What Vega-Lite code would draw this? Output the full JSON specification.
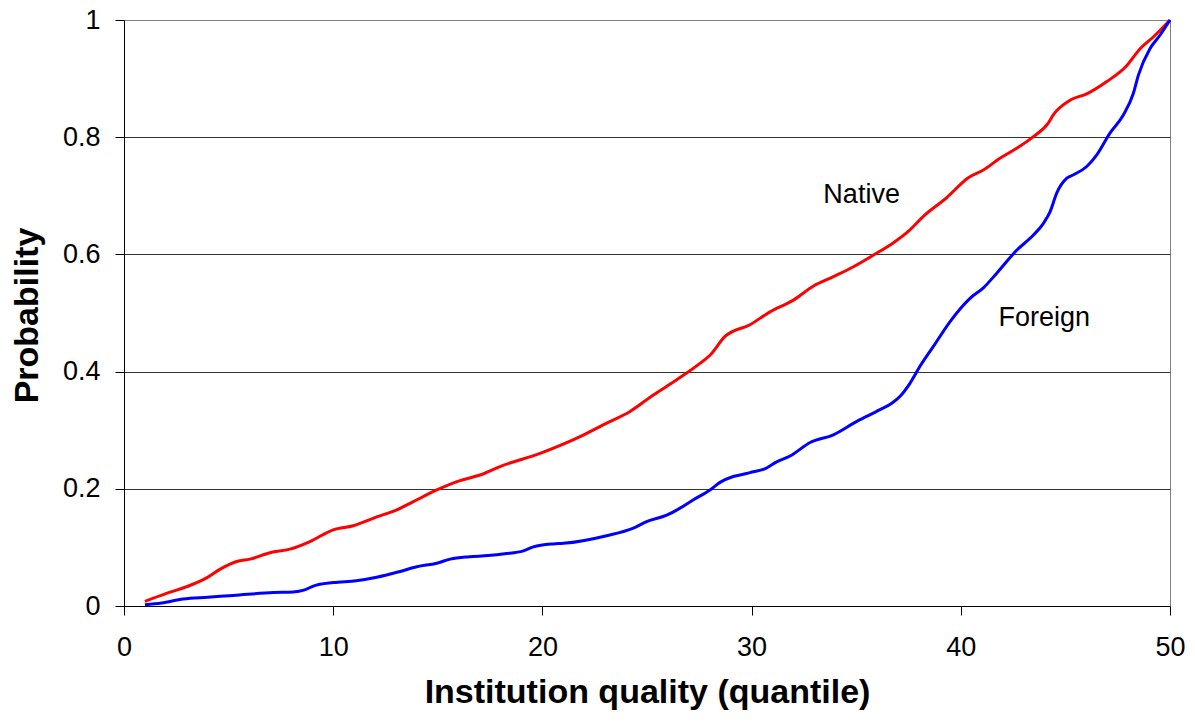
{
  "$schema": "https://vega.github.io/schema/vega-lite/v6.json",
  "width": 1046,
  "height": 586,
  "autosize": {"type": "none"},
  "padding": {"left": 124, "top": 20, "right": 25, "bottom": 118},
  "background": "white",
  "config": {
    "view": {"stroke": "#808080", "strokeWidth": 1},
    "font": "Liberation Sans",
    "axis": {"labelFont": "Liberation Sans", "titleFont": "Liberation Sans", "labelColor": "#000", "titleColor": "#000"}
  },
  "datasets": {
    "curves": [
      {"series": "Native", "x": 1, "y": 0.008},
      {"series": "Native", "x": 2, "y": 0.021},
      {"series": "Native", "x": 3, "y": 0.033},
      {"series": "Native", "x": 3.95, "y": 0.048},
      {"series": "Native", "x": 4.6, "y": 0.063},
      {"series": "Native", "x": 5.39, "y": 0.076},
      {"series": "Native", "x": 6.02, "y": 0.08},
      {"series": "Native", "x": 6.98, "y": 0.091},
      {"series": "Native", "x": 7.93, "y": 0.097},
      {"series": "Native", "x": 8.89, "y": 0.11},
      {"series": "Native", "x": 10.0, "y": 0.13},
      {"series": "Native", "x": 10.96, "y": 0.137},
      {"series": "Native", "x": 12.08, "y": 0.152},
      {"series": "Native", "x": 13.04, "y": 0.164},
      {"series": "Native", "x": 13.83, "y": 0.178},
      {"series": "Native", "x": 14.95, "y": 0.198},
      {"series": "Native", "x": 16.06, "y": 0.214},
      {"series": "Native", "x": 17.02, "y": 0.2235},
      {"series": "Native", "x": 17.97, "y": 0.238},
      {"series": "Native", "x": 19.89, "y": 0.2605},
      {"series": "Native", "x": 21.8, "y": 0.289},
      {"series": "Native", "x": 23.07, "y": 0.312},
      {"series": "Native", "x": 24.19, "y": 0.332},
      {"series": "Native", "x": 25.3, "y": 0.36},
      {"series": "Native", "x": 26.42, "y": 0.386},
      {"series": "Native", "x": 27.53, "y": 0.414},
      {"series": "Native", "x": 28.01, "y": 0.428},
      {"series": "Native", "x": 28.73, "y": 0.46},
      {"series": "Native", "x": 29.92, "y": 0.48},
      {"series": "Native", "x": 30.88, "y": 0.502},
      {"series": "Native", "x": 32.0, "y": 0.522},
      {"series": "Native", "x": 32.96, "y": 0.546},
      {"series": "Native", "x": 33.91, "y": 0.562},
      {"series": "Native", "x": 34.87, "y": 0.579},
      {"series": "Native", "x": 35.83, "y": 0.599},
      {"series": "Native", "x": 36.78, "y": 0.62},
      {"series": "Native", "x": 37.57, "y": 0.642},
      {"series": "Native", "x": 38.21, "y": 0.665},
      {"series": "Native", "x": 39.33, "y": 0.697},
      {"series": "Native", "x": 40.36, "y": 0.731},
      {"series": "Native", "x": 41.08, "y": 0.744},
      {"series": "Native", "x": 41.87, "y": 0.764},
      {"series": "Native", "x": 42.67, "y": 0.781},
      {"series": "Native", "x": 43.47, "y": 0.801},
      {"series": "Native", "x": 44.18, "y": 0.824},
      {"series": "Native", "x": 44.42, "y": 0.838},
      {"series": "Native", "x": 45.22, "y": 0.863},
      {"series": "Native", "x": 46.02, "y": 0.874},
      {"series": "Native", "x": 46.98, "y": 0.895},
      {"series": "Native", "x": 47.93, "y": 0.922},
      {"series": "Native", "x": 48.57, "y": 0.951},
      {"series": "Native", "x": 49.2, "y": 0.971},
      {"series": "Native", "x": 50, "y": 1.0},
      {"series": "Foreign", "x": 1, "y": 0.002},
      {"series": "Foreign", "x": 1.8, "y": 0.005},
      {"series": "Foreign", "x": 2.83, "y": 0.012},
      {"series": "Foreign", "x": 4, "y": 0.015},
      {"series": "Foreign", "x": 5.22, "y": 0.018},
      {"series": "Foreign", "x": 7.14, "y": 0.023},
      {"series": "Foreign", "x": 8.09, "y": 0.024},
      {"series": "Foreign", "x": 8.6, "y": 0.027},
      {"series": "Foreign", "x": 9.05, "y": 0.034},
      {"series": "Foreign", "x": 10.0, "y": 0.04},
      {"series": "Foreign", "x": 11.1, "y": 0.043},
      {"series": "Foreign", "x": 12.08, "y": 0.049},
      {"series": "Foreign", "x": 13.2, "y": 0.059},
      {"series": "Foreign", "x": 14.0, "y": 0.067},
      {"series": "Foreign", "x": 14.95, "y": 0.073},
      {"series": "Foreign", "x": 15.6, "y": 0.08},
      {"series": "Foreign", "x": 16.5, "y": 0.084},
      {"series": "Foreign", "x": 17.4, "y": 0.086},
      {"series": "Foreign", "x": 18.2, "y": 0.089},
      {"series": "Foreign", "x": 19.09, "y": 0.094},
      {"series": "Foreign", "x": 19.57, "y": 0.101},
      {"series": "Foreign", "x": 20.52, "y": 0.106},
      {"series": "Foreign", "x": 21.0, "y": 0.107},
      {"series": "Foreign", "x": 23.07, "y": 0.12},
      {"series": "Foreign", "x": 24.35, "y": 0.133},
      {"series": "Foreign", "x": 24.98, "y": 0.144},
      {"series": "Foreign", "x": 25.94, "y": 0.155},
      {"series": "Foreign", "x": 26.58, "y": 0.167},
      {"series": "Foreign", "x": 27.2, "y": 0.181},
      {"series": "Foreign", "x": 28.01, "y": 0.198},
      {"series": "Foreign", "x": 28.49, "y": 0.211},
      {"series": "Foreign", "x": 29.12, "y": 0.221},
      {"series": "Foreign", "x": 29.76, "y": 0.226},
      {"series": "Foreign", "x": 30.08, "y": 0.229},
      {"series": "Foreign", "x": 30.56, "y": 0.233},
      {"series": "Foreign", "x": 31.2, "y": 0.246},
      {"series": "Foreign", "x": 31.84, "y": 0.256},
      {"series": "Foreign", "x": 32.8, "y": 0.279},
      {"series": "Foreign", "x": 33.91, "y": 0.292},
      {"series": "Foreign", "x": 35.03, "y": 0.315},
      {"series": "Foreign", "x": 36.14, "y": 0.335},
      {"series": "Foreign", "x": 36.7, "y": 0.346},
      {"series": "Foreign", "x": 37.1, "y": 0.358},
      {"series": "Foreign", "x": 37.57, "y": 0.38},
      {"series": "Foreign", "x": 38.05, "y": 0.409},
      {"series": "Foreign", "x": 38.69, "y": 0.443},
      {"series": "Foreign", "x": 39.48, "y": 0.485},
      {"series": "Foreign", "x": 40.44, "y": 0.525},
      {"series": "Foreign", "x": 41.08, "y": 0.543},
      {"series": "Foreign", "x": 41.72, "y": 0.568},
      {"series": "Foreign", "x": 42.67, "y": 0.607},
      {"series": "Foreign", "x": 43.47, "y": 0.633},
      {"series": "Foreign", "x": 43.95, "y": 0.653},
      {"series": "Foreign", "x": 44.27, "y": 0.673},
      {"series": "Foreign", "x": 44.59, "y": 0.705},
      {"series": "Foreign", "x": 45.07, "y": 0.73},
      {"series": "Foreign", "x": 45.39, "y": 0.736},
      {"series": "Foreign", "x": 46.02, "y": 0.75},
      {"series": "Foreign", "x": 46.5, "y": 0.77},
      {"series": "Foreign", "x": 47.13, "y": 0.807},
      {"series": "Foreign", "x": 47.77, "y": 0.838},
      {"series": "Foreign", "x": 48.25, "y": 0.875},
      {"series": "Foreign", "x": 48.49, "y": 0.906},
      {"series": "Foreign", "x": 49.04, "y": 0.951},
      {"series": "Foreign", "x": 49.52, "y": 0.974},
      {"series": "Foreign", "x": 50, "y": 1.0}
    ],
    "labels": [
      {"label": "Native", "x": 35.26, "y": 0.687},
      {"label": "Foreign", "x": 43.99, "y": 0.478}
    ]
  },
  "layer": [
    {
      "data": {"name": "curves"},
      "mark": {"type": "line", "strokeWidth": 3, "interpolate": "monotone"},
      "encoding": {
        "x": {
          "field": "x", "type": "quantitative",
          "scale": {"domain": [0, 50], "nice": false, "zero": false},
          "axis": {
            "values": [0, 10, 20, 30, 40, 50],
            "grid": false,
            "tickSize": 9, "tickColor": "#000", "domainColor": "#000",
            "labelFontSize": 27, "labelPadding": 19, "labelFlush": false,
            "title": "Institution quality (quantile)",
            "titleFontSize": 34, "titleFontWeight": "bold",
            "titleX": 523, "titleY": 96, "titleAlign": "center", "titleBaseline": "alphabetic"
          }
        },
        "y": {
          "field": "y", "type": "quantitative",
          "scale": {"domain": [0, 1], "nice": false},
          "axis": {
            "values": [0, 0.2, 0.4, 0.6, 0.8, 1],
            "labelExpr": "format(datum.value, '~g')",
            "grid": true,
            "gridColor": {"condition": {"test": "datum.value == 1", "value": "#808080"}, "value": "#333333"},
            "gridWidth": 1,
            "tickSize": 9, "tickColor": "#000", "domainColor": "#000",
            "labelFontSize": 27, "labelPadding": 15, "labelFlush": false,
            "title": "Probability",
            "titleFontSize": 34, "titleFontWeight": "bold",
            "titleAngle": -90, "titleX": -87, "titleY": 295, "titleAlign": "center", "titleBaseline": "alphabetic"
          }
        },
        "color": {
          "field": "series", "type": "nominal",
          "scale": {"domain": ["Native", "Foreign"], "range": ["#FF0000", "#0000FF"]},
          "legend": null
        }
      }
    },
    {
      "data": {"name": "labels"},
      "mark": {"type": "text", "fontSize": 27, "font": "Liberation Sans", "color": "#000", "align": "center", "baseline": "alphabetic"},
      "encoding": {
        "x": {"field": "x", "type": "quantitative"},
        "y": {"field": "y", "type": "quantitative"},
        "text": {"field": "label", "type": "nominal"}
      }
    }
  ]
}
